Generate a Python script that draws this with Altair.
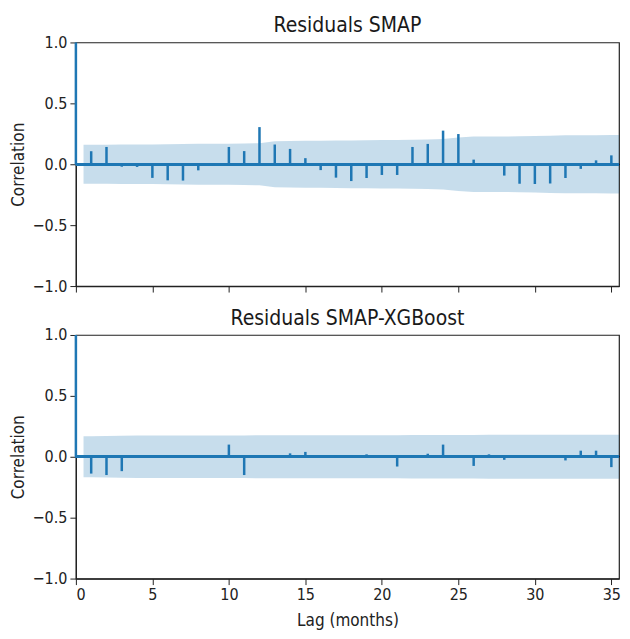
import altair as alt
import pandas as pd

FONT = "DejaVu Sans Condensed, DejaVu Sans"
BLUE = "#1f77b4"

lags = list(range(0, 36))

smap_acf = [1.0, 0.107, 0.142, -0.02, -0.022, -0.112, -0.132, -0.134, -0.05, -0.012,
            0.142, 0.108, 0.305, 0.162, 0.126, 0.05, -0.048, -0.11, -0.138, -0.113,
            -0.088, -0.088, 0.142, 0.167, 0.276, 0.248, 0.038, 0.0, -0.093, -0.16,
            -0.162, -0.158, -0.113, -0.038, 0.032, 0.073]

xgb_acf = [1.0, -0.138, -0.15, -0.118, 0.0, 0.0, 0.005, 0.0, 0.0, 0.0,
           0.10, -0.15, 0.0, 0.0, 0.028, 0.04, 0.0, 0.005, 0.01, 0.02,
           0.0, -0.08, 0.01, 0.025, 0.10, 0.005, -0.075, 0.02, -0.025, 0.0,
           0.0, 0.0, -0.03, 0.05, 0.05, -0.085]

band_lags = [0.5] + list(range(1, 36)) + [35.5]

smap_band = [0.160, 0.160, 0.161, 0.163, 0.163, 0.163, 0.164, 0.166, 0.168, 0.168,
             0.168, 0.171, 0.173, 0.188, 0.191, 0.193, 0.193, 0.194, 0.196, 0.198,
             0.199, 0.200, 0.201, 0.204, 0.207, 0.219, 0.228, 0.228, 0.228, 0.229,
             0.232, 0.235, 0.238, 0.239, 0.239, 0.240, 0.240]

xgb_band = [0.168, 0.168, 0.170, 0.172, 0.174, 0.174, 0.174, 0.174, 0.174, 0.174,
            0.174, 0.175, 0.177, 0.177, 0.177, 0.177, 0.177, 0.177, 0.177, 0.177,
            0.177, 0.177, 0.178, 0.178, 0.178, 0.179, 0.179, 0.180, 0.180, 0.180,
            0.180, 0.180, 0.181, 0.181, 0.181, 0.181, 0.181]

x_ticks = [0, 5, 10, 15, 20, 25, 30, 35]
y_ticks = [-1.0, -0.5, 0.0, 0.5, 1.0]

W, H = 544, 244


def panel(title, acf, band, show_x):
    df = pd.DataFrame({"lag": lags, "acf": acf})
    bdf = pd.DataFrame({"lag": band_lags, "hi": band, "lo": [-v for v in band]})

    xscale = alt.Scale(domain=[0, 35.5], nice=False, zero=False)
    yscale = alt.Scale(domain=[-1, 1], nice=False)
    if show_x:
        xaxis = alt.Axis(values=x_ticks, title="Lag (months)", format="d",
                         labelFontSize=16, titleFontSize=17, labelPadding=2,
                         titlePadding=10)
    else:
        xaxis = alt.Axis(values=x_ticks, title=None, labels=False)
    yaxis = alt.Axis(values=y_ticks, format=".1f", title="Correlation",
                     labelFontSize=16, titleFontSize=17, labelPadding=3,
                     titlePadding=5)

    area = alt.Chart(bdf).mark_area(color=BLUE, opacity=0.25).encode(
        x=alt.X("lag:Q", scale=xscale, axis=xaxis),
        y=alt.Y("lo:Q", scale=yscale, axis=yaxis),
        y2="hi:Q",
    )
    zero = alt.Chart(df).mark_rule(color=BLUE, strokeWidth=2).encode(
        y=alt.datum(0)
    )
    stems = alt.Chart(df).mark_rule(color=BLUE, strokeWidth=2.5).encode(
        x=alt.X("lag:Q", scale=xscale),
        y=alt.Y("acf:Q", scale=yscale),
        y2=alt.datum(0),
    )
    return alt.layer(area, zero, stems).properties(
        width=W, height=H,
        title=alt.TitleParams(title, fontSize=21, font=FONT, fontWeight="normal",
                              color="#1a1a1a", offset=-2),
    )


top = panel("Residuals SMAP", smap_acf, smap_band, False)
bottom = panel("Residuals SMAP-XGBoost", xgb_acf, xgb_band, True)

chart = alt.vconcat(top, bottom, spacing=12).properties(
    padding={"left": 0, "top": 6, "right": 0, "bottom": 0}
).configure_view(
    stroke="#222222", strokeWidth=1.2
).configure_axis(
    grid=False, domainColor="#222222", tickColor="#222222", labelColor="#222222",
    titleColor="#222222", labelFont=FONT, titleFont=FONT, titleFontWeight="normal",
    tickSize=6, domainWidth=1.2
)

chart.save("out.html", embed_options={"renderer": "svg", "actions": False})
